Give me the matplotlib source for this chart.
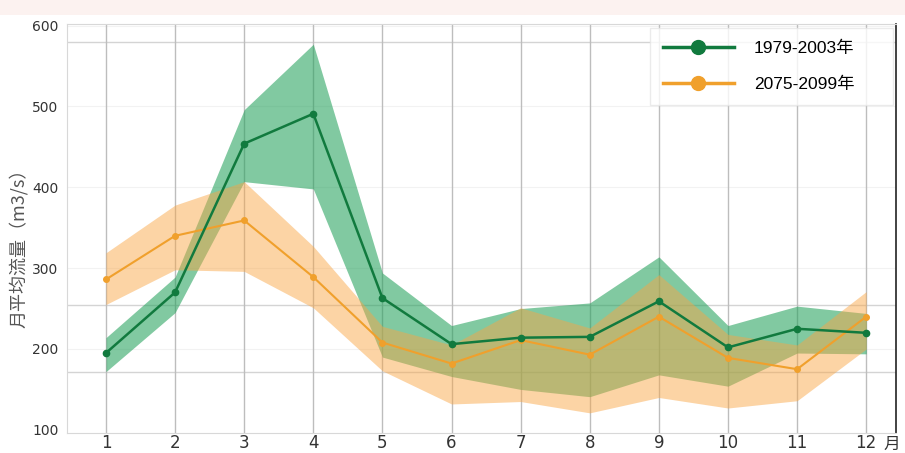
import numpy as np
import matplotlib as mpl
mpl.use('Agg')
import matplotlib.pyplot as plt
import matplotlib.transforms as mtransforms
from matplotlib.patches import Rectangle
from matplotlib.lines import Line2D

plt.rcParams['font.family'] = ['DejaVu Sans', 'Noto Sans CJK SC']

months = [1, 2, 3, 4, 5, 6, 7, 8, 9, 10, 11, 12]
month_labels = ['1', '2', '3', '4', '5', '6', '7', '8', '9', '10', '11', '12']

# 1979-2003
hist_mean = [195, 270, 454, 491, 263, 206, 214, 215, 259, 202, 225, 220]
hist_upper = [214, 289, 496, 577, 294, 229, 250, 257, 314, 229, 253, 244]
hist_lower = [172, 245, 407, 398, 190, 166, 150, 141, 168, 154, 195, 194]

# 2075-2099
fut_mean = [286, 340, 359, 289, 208, 182, 211, 193, 240, 189, 175, 240]
fut_upper = [319, 378, 407, 327, 228, 205, 251, 226, 292, 218, 205, 271]
fut_lower = [255, 298, 296, 251, 173, 132, 135, 121, 140, 127, 136, 200]

yticks = [100, 200, 300, 400, 500, 600]
extra_grid = [172, 255, 580]

fig = plt.figure(figsize=(9.05, 4.53), dpi=100)
fig.patches.append(Rectangle((0, 0.967), 1, 0.033, transform=fig.transFigure,
                             facecolor='#fcf2f0', edgecolor='none', zorder=0))
ax = fig.add_axes([0.074, 0.044, 0.916, 0.903])

ax.fill_between(months, hist_lower, hist_upper, color='#26a25d', alpha=0.58,
                linewidth=0, zorder=2)
ax.fill_between(months, fut_lower, fut_upper, color='#f9a544', alpha=0.48,
                linewidth=0, zorder=3)
ax.plot(months, hist_mean, '-o', color='#117a3e', lw=1.8, ms=4.5, zorder=5)
ax.plot(months, fut_mean, '-o', color='#f0a02c', lw=1.5, ms=4, zorder=4)

ax.set_xlim(0.436, 12.43)
ax.set_ylim(96, 602)
ax.set_xticks(months)
ax.set_xticklabels(month_labels, fontsize=12, color='#333333')
ax.set_yticks(yticks)
ax.set_yticklabels([str(v) for v in yticks], fontsize=10, color='#333333')
ax.tick_params(axis='both', length=0)
ax.tick_params(axis='x', pad=1)
ax.tick_params(axis='y', pad=6)

ax.grid(axis='x', color='#bdbdbd', lw=1.0, zorder=1)
for v in extra_grid:
    ax.axhline(v, color='#d4d4d4', lw=1.0, zorder=1)
for v in yticks[1:]:
    ax.axhline(v, color='#f2f2f2', lw=0.8, zorder=1)

for s in ['left', 'bottom', 'top']:
    ax.spines[s].set_color('#d8d8d8')
ax.spines['right'].set_color('#222222')
ax.spines['right'].set_linewidth(1.2)

ax.set_ylabel('月平均流量（m3/s）', fontsize=13, color='#555555',
              family=['Noto Sans CJK SC', 'DejaVu Sans'])
ax.yaxis.set_label_coords(-0.047, 0.462)
trans = mtransforms.blended_transform_factory(ax.transData, ax.transAxes)
ax.text(12.37, -0.008, '月', transform=trans, fontsize=12, color='#333333',
        ha='center', va='top', family=['Noto Sans CJK SC', 'DejaVu Sans'])

handles = [Line2D([], [], color='#117a3e', marker='o', ms=10, lw=2.5),
           Line2D([], [], color='#f0a02c', marker='o', ms=10, lw=2.5)]
leg = ax.legend(handles, ['1979-2003年', '2075-2099年'], loc='upper left',
                bbox_to_anchor=(0.703, 0.5, 0.2934, 0.49), mode='expand',
                borderaxespad=0, frameon=True,
                fancybox=False, handlelength=4.1, handletextpad=1.15,
                borderpad=0.75, labelspacing=1.15,
                prop={'family': ['Liberation Sans', 'Noto Sans CJK SC'], 'size': 12.5})
leg.get_frame().set_edgecolor('#e6e6e6')
leg.get_frame().set_linewidth(1.0)
leg.set_zorder(10)

plt.savefig('out.png', dpi=100)
